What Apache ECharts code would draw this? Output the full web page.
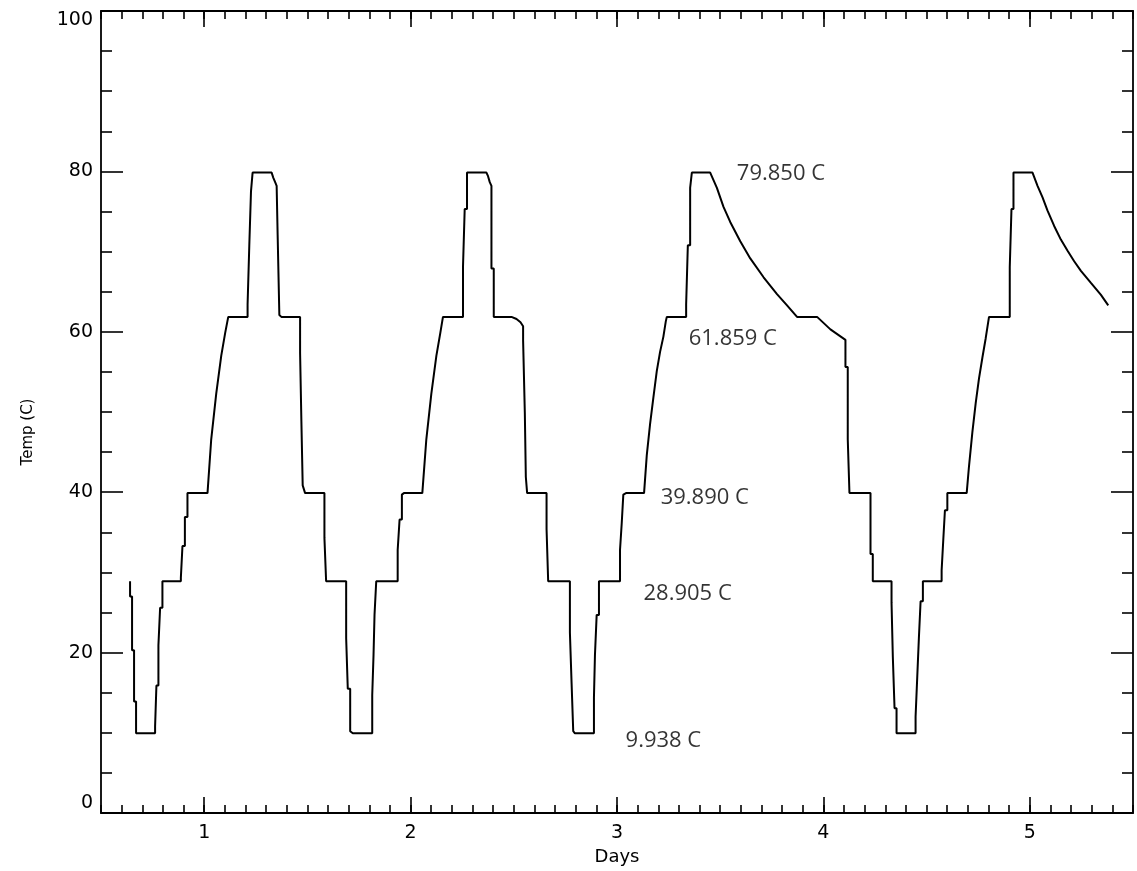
<!DOCTYPE html>
<html><head><meta charset="utf-8">
<script src="https://cdn.jsdelivr.net/npm/echarts@6/dist/echarts.min.js"></script>
<style>html,body{margin:0;padding:0;background:#fff}#c{width:1137px;height:871px}</style>
</head><body><div id="c"></div>
<script>
// ---- data (days, temperature in C) ----
const xTickValues = [1, 2, 3, 4, 5];
const yMin = 0, yMax = 100, yStep = 20;

const cycle1 = [[0.6408,28.90],[0.6408,27.0],[0.6505,27.0],[0.6505,20.3],[0.6602,20.3],[0.6602,13.9],[0.6699,13.9],[0.6699,9.94],[0.7621,9.94],
[0.7621,10.8],[0.7685,10.8],[0.7685,15.9],[0.7782,15.9],[0.7782,20.9],[0.7864,20.9],[0.7864,25.6],[0.7976,25.6],[0.7976,28.90],[0.8869,28.90],
[0.8869,29.35],[0.8947,29.35],[0.8947,33.3],[0.9064,33.3],[0.9064,36.9],[0.9189,36.9],[0.9189,39.89],[1.0160,39.89],
[1.0340,46.6],[1.0583,52.3],[1.0825,57.0],[1.1019,59.9],[1.1165,61.86],[1.2102,61.86],
[1.2102,63.4],[1.2184,63.4],[1.2184,70.7],[1.2267,70.7],[1.2267,77.5],[1.2345,77.5],[1.2345,79.85],[1.3267,79.85],
[1.3350,79.2],[1.3447,78.6],[1.3510,78.2],[1.3558,78.2],[1.3558,72.1],[1.3641,72.1],[1.3641,62.1],[1.3738,61.86],[1.4646,61.86]];

const cycle2 = [[1.4646,57.35],[1.4709,57.35],[1.4709,48.8],[1.4772,48.8],[1.4772,40.85],[1.4888,39.89],[1.5825,39.89],
[1.5825,34.3],[1.5907,34.3],[1.5907,28.90],[1.6878,28.90],
[1.6878,21.8],[1.6956,21.8],[1.6956,15.5],[1.7073,15.5],[1.7073,10.2],[1.7199,9.94],[1.8141,9.94],
[1.8141,14.7],[1.8204,14.7],[1.8204,19.7],[1.8252,19.7],[1.8252,24.7],[1.8335,24.7],[1.8335,28.90],[1.9374,28.90],
[1.9374,32.8],[1.9466,32.8],[1.9466,36.6],[1.9578,36.6],[1.9578,39.7],[1.9675,39.89],[2.0568,39.89],
[2.0762,46.6],[2.1005,52.3],[2.1248,57.0],[2.1442,59.9],[2.1568,61.86],[2.2539,61.86],
[2.2539,68.1],[2.2621,68.1],[2.2621,75.3],[2.2733,75.3],[2.2733,79.85],[2.3675,79.85],
[2.3752,79.4],[2.3835,78.66],[2.3917,78.2],[2.3917,67.9],[2.4029,67.9],[2.4029,61.86],[2.4888,61.86],
[2.5131,61.6],[2.5325,61.2],[2.5451,60.7]];

const cycle3 = [[2.5451,58.9],[2.5534,58.9],[2.5534,49.95],[2.5583,49.95],[2.5583,41.9],[2.5646,39.89],[2.6587,39.89],
[2.6587,35.4],[2.6665,35.4],[2.6665,28.90],[2.7718,28.90],
[2.7718,22.5],[2.7801,22.5],[2.7801,16.1],[2.7879,16.1],[2.7879,10.2],[2.7961,9.94],[2.8883,9.94],
[2.8883,14.4],[2.8932,14.4],[2.8932,19.7],[2.9015,19.7],[2.9015,24.7],[2.9126,24.7],[2.9126,28.90],[3.0146,28.90],
[3.0146,32.8],[3.0228,32.8],[3.0228,36.1],[3.0306,36.1],[3.0306,39.7],[3.0437,39.89],[3.1311,39.89],
[3.1442,44.6],[3.1602,48.5],[3.1762,51.8],[3.1927,55.1],[3.2087,57.5],[3.2248,59.4],[3.2364,61.3],[3.2413,61.86],[3.3350,61.86],
[3.3350,63.4],[3.3432,63.4],[3.3432,70.8],[3.3544,70.8],[3.3544,77.95],[3.3626,77.95],[3.3626,79.85],[3.4515,79.85],
[3.4840,77.95],[3.5160,75.57],[3.5485,73.7],[3.5971,71.3],[3.6456,69.15],[3.7102,66.8],[3.7752,64.7],[3.8238,63.3],[3.8723,61.86],[3.9694,61.86],
[4.0340,60.3],[4.1068,59.0]];

const cycle4 = [[4.1068,55.6],[4.1180,55.6],[4.1180,46.6],[4.1262,46.6],[4.1262,39.89],[4.2282,39.89],
[4.2282,32.3],[4.2393,32.3],[4.2393,28.90],[4.3301,28.90],
[4.3301,26.2],[4.3364,26.2],[4.3364,19.45],[4.3447,19.45],[4.3447,13.05],[4.3544,13.05],[4.3544,9.94],[4.4466,9.94],
[4.4466,12.0],[4.4549,12.0],[4.4549,17.1],[4.4626,17.1],[4.4626,21.8],[4.4709,21.8],[4.4709,26.4],[4.4820,26.4],[4.4820,28.90],[4.5728,28.90],
[4.5728,30.25],[4.5811,30.25],[4.5811,34.2],[4.5888,34.2],[4.5888,37.75],[4.6005,37.75],[4.6005,39.89],[4.6942,39.89],
[4.7053,43.2],[4.7218,47.5],[4.7379,51.1],[4.7539,54.2],[4.7704,56.8],[4.7864,59.2],[4.8024,61.86],[4.9029,61.86],
[4.9029,68.05],[4.9112,68.05],[4.9112,75.3],[4.9209,75.3],[4.9209,79.85],[5.0131,79.85],
[5.0374,78.2],[5.0617,76.76],[5.0859,75.1],[5.1180,73.2],[5.1505,71.5],[5.1830,70.1],[5.2150,68.8],[5.2476,67.6],[5.2961,66.1],[5.3447,64.6],[5.3801,63.3]];

const annotationDays  = [3.578, 3.345, 3.209, 3.126, 3.039];
const annotationTemps = [79.65, 59.1, 39.35, 27.35, 8.95];
const annotationTexts = ['79.850 C', '61.859 C', '39.890 C', '28.905 C', '9.938 C'];

// ---- chart ----
const trace = cycle1.concat(cycle2, cycle3, cycle4);
const annotations = annotationDays.map((d, i) => [d, annotationTemps[i]]);

const ink = '#000';
const tickFont = { color: ink, fontFamily: 'DejaVu Sans', fontSize: 19 };
const lineSt = { color: ink, width: 1.6 };

function xAx(pos, major, labels) {
  const a = {
    type: 'value', position: pos, min: 0.5, max: 5.5,
    axisLine: { show: !major, onZero: false, lineStyle: { color: ink, width: 1.8 } },
    splitLine: { show: false },
    axisTick: { show: true, inside: true, length: major ? 16 : 8, lineStyle: lineSt },
    axisLabel: { show: false }
  };
  if (major) {
    a.axisTick.customValues = xTickValues;
  } else {
    a.interval = 0.1;
  }
  if (labels) {
    a.axisLabel = Object.assign({ show: true, customValues: xTickValues, margin: 11, formatter: v => String(v) }, tickFont);
    a.name = 'Days';
    a.nameLocation = 'middle';
    a.nameGap = 35;
    a.nameTextStyle = Object.assign({}, tickFont, { fontSize: 18 });
  }
  return a;
}

function yAx(pos, labels) {
  const a = {
    type: 'value', position: pos, min: yMin, max: yMax, interval: yStep,
    axisLine: { show: true, onZero: false, lineStyle: { color: ink, width: 1.8 } },
    splitLine: { show: false },
    axisTick: { show: true, inside: true, length: 22, lineStyle: lineSt },
    minorTick: { show: true, splitNumber: 4, length: 11, lineStyle: lineSt },
    axisLabel: { show: false }
  };
  if (labels) {
    a.axisLabel = Object.assign({ show: true, margin: 8, verticalAlignMaxLabel: 'top', verticalAlignMinLabel: 'bottom' }, tickFont);
    a.name = 'Temp (C)';
    a.nameLocation = 'middle';
    a.nameRotate = 90;
    a.nameGap = 65;
    a.nameTextStyle = Object.assign({}, tickFont, { fontSize: 15, padding: [0, 40, 0, 0] });
  }
  return a;
}

const chart = echarts.init(document.getElementById('c'), null, { renderer: 'canvas' });
chart.setOption({
  animation: false,
  backgroundColor: '#fff',
  grid: { left: 101, right: 4, top: 11, bottom: 56 },
  xAxis: [xAx('bottom', false, true), xAx('bottom', true, false), xAx('top', false, false), xAx('top', true, false)],
  yAxis: [yAx('left', true), yAx('right', false)],
  series: [
    {
      type: 'line', xAxisIndex: 0, yAxisIndex: 0, data: trace,
      showSymbol: false, symbol: 'none',
      lineStyle: { color: '#000', width: 2 }
    },
    {
      type: 'scatter', xAxisIndex: 0, yAxisIndex: 0, data: annotations,
      symbolSize: 1, itemStyle: { color: 'rgba(0,0,0,0)' },
      label: {
        show: true, position: 'right', distance: 0,
        formatter: p => annotationTexts[p.dataIndex],
        color: '#000', fontFamily: 'Open Sans', fontSize: 22
      }
    }
  ]
});
</script>
</body></html>
